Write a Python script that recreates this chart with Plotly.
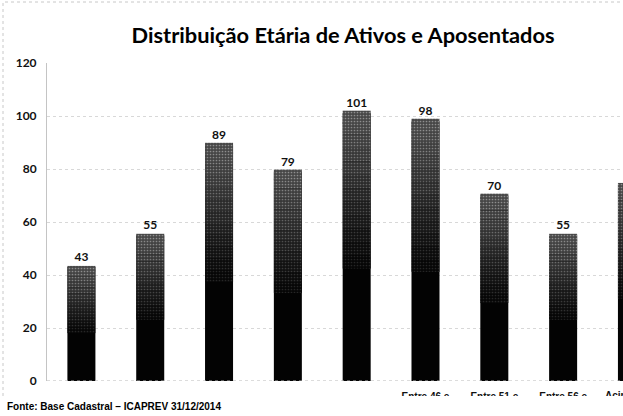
import plotly.graph_objects as go

categories = ["Até 25", "Entre 26 e 30", "Entre 31 e 35", "Entre 36 e 40", "Entre 41 e 45",
              "Entre 46 e 50", "Entre 51 e 55", "Entre 56 e 60", "Acima de 60"]
values = [43, 55, 89, 79, 101, 98, 70, 55, 74]
tick_labels = ["", "", "", "", "", "Entre 46 e<br>50", "Entre 51 e<br>55", "Entre 56 e<br>60", "Acima de<br>60"]
y_ticks = [0, 20, 40, 60, 80, 100, 120]

title = "Distribuição Etária de Ativos e Aposentados"
source = "Fonte: Base Cadastral – ICAPREV 31/12/2014"

idx = list(range(len(categories)))

# vertical shading: bands as fraction of bar height (start), fill, speckle colour
shade_start = [0.42, 0.47, 0.52, 0.57, 0.62, 0.67, 0.72, 0.77, 0.82, 0.87, 0.92, 0.96]
shade_fill = ["#060606", "#0b0b0b", "#111111", "#171717", "#1d1d1d", "#242424",
              "#2b2b2b", "#323232", "#383838", "#3e3e3e", "#434343", "#474747"]
shade_dots = ["#262626", "#303030", "#3a3a3a", "#444444", "#4e4e4e", "#585858",
              "#626262", "#6c6c6c", "#767676", "#808080", "#888888", "#8e8e8e"]

fig = go.Figure()
fig.add_trace(go.Bar(
    x=idx, y=values, marker=dict(color="#030303", line=dict(width=0)),
    text=[str(v) for v in values], textposition="outside",
    textfont=dict(family="Lato", size=12, color="#111", weight="bold"),
    hoverinfo="skip"))
for s0, col, dot in zip(shade_start, shade_fill, shade_dots):
    fig.add_trace(go.Bar(
        x=idx, y=[v * 0.05 for v in values], base=[v * s0 for v in values],
        marker=dict(color=col, line=dict(width=0),
                    pattern=dict(shape=".", fgcolor=dot, bgcolor=col,
                                 size=3, solidity=0.25, fillmode="replace")),
        hoverinfo="skip"))

fig.update_layout(
    width=623, height=416,
    margin=dict(l=47, r=0, t=63, b=35, autoexpand=False),
    paper_bgcolor="white", plot_bgcolor="white",
    barmode="overlay", bargap=0.593, showlegend=False,
    title=dict(text=title, x=0.514, xref="paper", xanchor="center",
               y=1 - 35 / 416, yanchor="middle", automargin=False,
               font=dict(family="Lato", size=21.8, color="#000", weight="bold")),
    xaxis=dict(tickmode="array", tickvals=idx, ticktext=tick_labels,
               range=[-0.5, 7.87], showgrid=False, zeroline=False, showline=False,
               ticks="", ticklabelstandoff=8, automargin=False,
               tickfont=dict(family="Liberation Sans", size=10, color="#111", weight="bold")),
    yaxis=dict(range=[0, 120], tickvals=y_ticks, showgrid=True,
               gridcolor="#d8d8d8", griddash="dot", gridwidth=1,
               zeroline=False, showline=True, linecolor="#c4c4c4", linewidth=1,
               ticks="", ticklabelstandoff=7, automargin=False,
               tickfont=dict(family="Lato", size=12, color="#111", weight="bold")),
    shapes=[
        dict(type="rect", xref="paper", yref="paper",
             x0=(3 - 47) / 576, x1=1.2, y0=-0.2, y1=(381 - 2) / 318,
             line=dict(color="#c8c8c8", width=1, dash="dot"), layer="below"),
        dict(type="line", xref="paper", yref="y", x0=0, x1=1, y0=0, y1=0,
             line=dict(color="#b8b8b8", width=1, dash="dot"), layer="above"),
        # label of the cropped last category (drawn under the white cover)
        dict(type="rect", xref="paper", yref="paper",
             x0=(602 - 47) / 576, x1=(700 - 47) / 576,
             y0=(381 - 420) / 318, y1=(381 - 389) / 318,
             line=dict(width=0), fillcolor="rgba(0,0,0,0)", layer="above",
             label=dict(text="Acima de", textposition="top left", padding=0,
                        font=dict(family="Liberation Sans", size=10, color="#111", weight="bold"))),
        dict(type="rect", xref="paper", yref="paper",
             x0=-0.2, x1=1.2, y0=-0.2, y1=(381 - 396) / 318,
             fillcolor="white", line=dict(width=0), layer="above"),
    ],
    annotations=[
        dict(text=source, xref="paper", yref="paper", x=(5 - 47) / 576, y=(381 - 406) / 318,
             xanchor="left", yanchor="middle", showarrow=False,
             font=dict(family="Liberation Sans", size=10, color="#000", weight="bold")),
    ],
)

fig.write_html("out.html", config={"displayModeBar": False},
               post_script="document.body.style.margin='0px';document.body.style.overflow='hidden';")
